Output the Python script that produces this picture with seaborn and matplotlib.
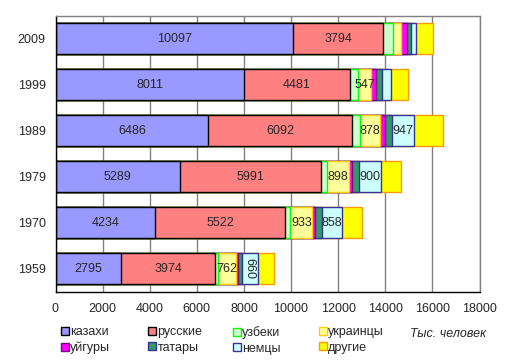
import matplotlib
matplotlib.use("Agg")
import matplotlib.pyplot as plt
from matplotlib.lines import Line2D
import seaborn as sns
import numpy as np
import pandas as pd

years = ["2009", "1999", "1989", "1979", "1970", "1959"]
groups = ["казахи", "русские", "узбеки", "украинцы", "уйгуры", "татары", "немцы", "другие"]
kazakhs = [10097, 8011, 6486, 5289, 4234, 2795]
russians = [3794, 4481, 6092, 5991, 5522, 3974]
uzbeks = [457, 371, 332, 263, 216, 137]
ukrainians = [333, 547, 878, 898, 933, 762]
uighurs = [224, 210, 185, 148, 121, 60]
tatars = [204, 249, 320, 313, 288, 192]
germans = [178, 353, 947, 900, 858, 660]
others = [722, 731, 1230, 883, 837, 715]

fills = ["#9999FF", "#FF8080", "#CCFFCC", "#FFFF99", "#FF00FF", "#339966", "#CCFFFF", "#FFFF00"]
edges = ["#000000", "#000000", "#00FF00", "#FFCC00", "#800080", "#333399", "#333399", "#FF9900"]

sns.set_style("white")
plt.rcParams["font.family"] = ["Liberation Sans", "DejaVu Sans"]
fs = 9

values = np.array([kazakhs, russians, uzbeks, ukrainians, uighurs, tatars, germans, others])
cum = values.cumsum(axis=0)

fig = plt.figure(figsize=(5.14, 3.6), dpi=100)
ax = fig.add_axes([55.5 / 514, 1 - 291.5 / 360, (479.5 - 55.5) / 514, (291.5 - 15.5) / 360])

# stacked bars: draw cumulative totals from the outside in
for i in reversed(range(len(groups))):
    df = pd.DataFrame({"year": years, "val": cum[i]})
    sns.barplot(data=df, x="val", y="year", order=years, orient="h", color=fills[i],
                edgecolor=edges[i], linewidth=1.0, width=0.67, saturation=1,
                errorbar=None, ax=ax, zorder=3)

# value labels
def label(row_idx, seg_idx, rot=0):
    v = values[seg_idx][row_idx]
    centre = cum[seg_idx][row_idx] - v / 2
    ax.text(centre, row_idx, str(v), ha="center", va="center", rotation=rot,
            fontsize=fs, zorder=5)

for r in range(len(years)):
    label(r, 0)
    label(r, 1)
for r in range(1, len(years)):
    label(r, 3)
for r in range(2, len(years) - 1):
    label(r, 6)
label(len(years) - 1, 6, rot=270)

ax.set_xlim(0, 18000)
ax.set_ylim(5.5, -0.5)
ax.set_xticks(range(0, 18001, 2000))
ax.set_xlabel("")
ax.set_ylabel("")
ax.xaxis.grid(True, color="#808080", linewidth=1.0, zorder=0)
ax.set_axisbelow(True)
ax.tick_params(length=0, labelsize=fs, pad=8)
ax.tick_params(axis="y", pad=7)
for s in ["top", "right"]:
    ax.spines[s].set_color("#808080")
for s in ["left", "bottom"]:
    ax.spines[s].set_color("#000000")
for s in ax.spines.values():
    s.set_linewidth(1.0)
    s.set_zorder(4)

# legend: four columns, two rows
col_x = [61, 148, 233, 319]
for c in range(4):
    handles = []
    labs = []
    for k in (c, c + 4):
        handles.append(Line2D([], [], marker="s", linestyle="none", markersize=5.5,
                              markerfacecolor=fills[k], markeredgecolor=edges[k],
                              markeredgewidth=1.0))
        labs.append(groups[k])
    fig.legend(handles, labs, loc="upper left", bbox_to_anchor=(col_x[c] / 514, 1 - 326 / 360),
               frameon=False, handlelength=0.6, handletextpad=0.15, labelspacing=0.3,
               borderpad=0, borderaxespad=0, fontsize=fs)

fig.text(410 / 514, 1 - 334 / 360, "Тыс. человек", style="italic", va="center", ha="left",
         fontsize=fs)

fig.savefig("out.png", dpi=100)
